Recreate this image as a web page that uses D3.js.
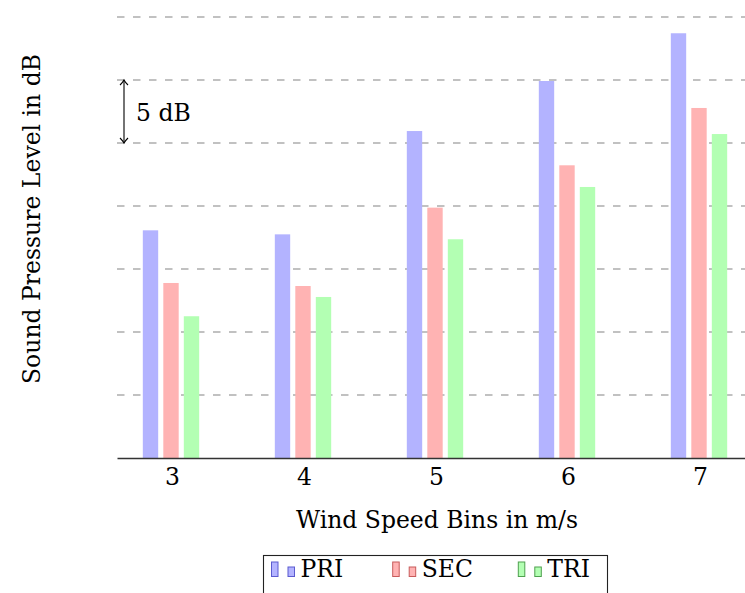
<!DOCTYPE html>
<html>
<head>
<meta charset="utf-8">
<script src="https://cdn.jsdelivr.net/npm/d3@7"></script>
<style>
  html, body { margin: 0; padding: 0; background: #fff; }
  svg { display: block; }
  text { font-family: "DejaVu Serif", "Liberation Serif", "Noto Serif", serif; fill: #000; }
</style>
</head>
<body>
<svg id="chart" width="745" height="593"></svg>
<script>
// ---- data ----
const categories = [3, 4, 5, 6, 7];
const seriesNames = ["PRI", "SEC", "TRI"];
const PRI = [18.07, 17.75, 25.95, 29.92, 33.71];
const SEC = [13.89, 13.65, 19.87, 23.23, 27.78];
const TRI = [11.25, 12.78, 17.36, 21.51, 25.71];
const yTicks = [0, 5, 10, 15, 20, 25, 30, 35];
const xTickLabels = ["3", "4", "5", "6", "7"];
const xLabel = "Wind Speed Bins in m/s";
const yLabel = "Sound Pressure Level in dB";
const scaleNote = "5 dB";

const seriesValues = { PRI: PRI, SEC: SEC, TRI: TRI };
const fillColors = { PRI: "#b3b3ff", SEC: "#ffb3b3", TRI: "#b3ffb3" };
const strokeColors = { PRI: "#5b5bd0", SEC: "#c85b5b", TRI: "#4fa04f" };

const svg = d3.select("#chart");
const FS = 23.5;

// scales
const x = d3.scaleLinear().domain([3 - 55/132, 7 + 55/132]).range([117, 755]);
const y = d3.scaleLinear().domain([0, 35]).range([458, 17]);
const xs = d3.scaleBand().domain(seriesNames).range([-31.75, 29.75]).paddingInner(0.25).paddingOuter(0.125);

// grid
const grid = svg.append("g");
grid.selectAll("line").data(yTicks.filter(d => d > 0)).join("line")
  .attr("x1", x.range()[0]).attr("x2", x.range()[1])
  .attr("y1", d => y(d)).attr("y2", d => y(d))
  .attr("stroke", "#adadad").attr("stroke-width", 1.5)
  .attr("stroke-dasharray", "7.5,8.5");

// bars
const barG = svg.append("g");
seriesNames.forEach(s => {
  barG.selectAll(null).data(categories.map((c, i) => ({ c, v: seriesValues[s][i] }))).join("rect")
    .attr("x", d => x(d.c) + xs(s))
    .attr("width", xs.bandwidth())
    .attr("y", d => y(d.v))
    .attr("height", d => y(0) - y(d.v))
    .attr("fill", fillColors[s]);
});

// x axis
const xAxis = d3.axisBottom(x).tickValues(categories).tickFormat((d, i) => xTickLabels[i]).tickSize(0).tickPadding(0);
const ax = svg.append("g").attr("transform", `translate(0,${y(0)})`).call(xAxis);
ax.attr("font-family", null);
ax.select(".domain").attr("stroke", "#333").attr("stroke-width", 1.6);
ax.selectAll(".tick text")
  .attr("font-size", FS)
  .attr("dy", null).attr("y", 27);

// axis labels
svg.append("text").attr("x", 437).attr("y", 528).attr("text-anchor", "middle")
  .attr("font-size", FS).text(xLabel);
svg.append("text").attr("transform", "translate(40,219) rotate(-90)").attr("text-anchor", "middle")
  .attr("font-size", FS).text(yLabel);

// 5 dB scale marker
const defs = svg.append("defs");
defs.append("marker").attr("id", "arr").attr("viewBox", "-6 -6 12 12")
  .attr("refX", 0).attr("refY", 0).attr("markerWidth", 12).attr("markerHeight", 12)
  .attr("markerUnits", "userSpaceOnUse").attr("orient", "auto-start-reverse")
  .append("path").attr("d", "M-5,-4 Q-2,-1 0,0 Q-2,1 -5,4")
  .attr("fill", "none").attr("stroke", "#000").attr("stroke-width", 1.1);
svg.append("line").attr("x1", 124).attr("x2", 124)
  .attr("y1", y(30)).attr("y2", y(25))
  .attr("stroke", "#000").attr("stroke-width", 1.1)
  .attr("marker-start", "url(#arr)").attr("marker-end", "url(#arr)");
svg.append("text").attr("x", 136).attr("y", 121).attr("font-size", FS).text(scaleNote);

// legend
const lg = svg.append("g");
const entryX = [271.5, 392.7, 518.3];
seriesNames.forEach((s, i) => {
  const g = lg.append("g").attr("transform", `translate(${entryX[i]},0)`);
  g.append("rect").attr("x", 0).attr("y", 562).attr("width", 6.5).attr("height", 14.5)
    .attr("fill", fillColors[s]).attr("stroke", strokeColors[s]).attr("stroke-width", 1);
  g.append("rect").attr("x", 16.5).attr("y", 567).attr("width", 6.5).attr("height", 9.5)
    .attr("fill", fillColors[s]).attr("stroke", strokeColors[s]).attr("stroke-width", 1);
  g.append("text").attr("x", 29).attr("y", 577).attr("font-size", FS).text(s);
});
lg.insert("rect", ":first-child").attr("x", 263.5).attr("y", 555.5).attr("width", 344).attr("height", 45)
  .attr("fill", "#fff").attr("stroke", "#222").attr("stroke-width", 1.1);
</script>
</body>
</html>
